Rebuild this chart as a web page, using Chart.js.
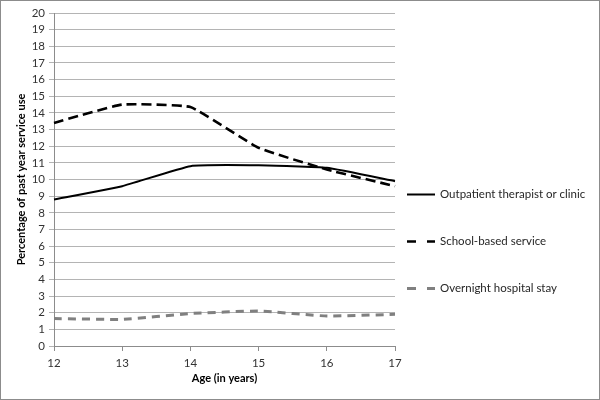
<!DOCTYPE html>
<html>
<head>
<meta charset="utf-8">
<script src="https://cdn.jsdelivr.net/npm/chart.js@4"></script>
<style>
html,body{margin:0;padding:0;background:#fff;}
#wrap{position:relative;width:600px;height:400px;}
#frame{position:absolute;left:0;top:0;width:598px;height:398px;border:1px solid #8c8c8c;pointer-events:none;}
</style>
</head>
<body>
<div id="wrap">
<canvas id="c" width="600" height="400"></canvas>
<div id="frame"></div>
</div>
<script>
const ages = ["12", "13", "14", "15", "16", "17"];
const outpatient = [8.8, 9.6, 10.8, 10.85, 10.7, 9.9];
const schoolBased = [13.4, 14.5, 14.35, 11.9, 10.6, 9.6];
const overnight = [1.65, 1.6, 1.95, 2.1, 1.8, 1.9];
const seriesNames = ["Outpatient therapist or clinic", "School-based service", "Overnight hospital stay"];
const yTitle = "Percentage of past year service use";
const xTitle = "Age (in years)";

const FONT = "Lato, 'Open Sans', sans-serif";

const legendPlugin = {
  id: 'sideLegend',
  afterDraw(chart) {
    const ctx = chart.ctx;
    const rows = [194.5, 241.5, 288.5];
    ctx.save();
    chart.data.datasets.forEach((ds, i) => {
      const y = rows[i];
      ctx.strokeStyle = ds.borderColor;
      ctx.lineWidth = ds.borderWidth;
      ctx.setLineDash([]);
      ctx.beginPath();
      if (ds.borderDash && ds.borderDash.length) {
        ctx.moveTo(407, y); ctx.lineTo(416, y);
        ctx.moveTo(427, y); ctx.lineTo(435, y);
      } else {
        ctx.moveTo(407, y); ctx.lineTo(435, y);
      }
      ctx.stroke();
      ctx.fillStyle = '#262626';
      ctx.font = "11.5px " + FONT;
      ctx.textBaseline = 'middle';
      ctx.textAlign = 'left';
      ctx.fillText(ds.label, 440, y);
    });
    ctx.restore();
  }
};

new Chart(document.getElementById('c'), {
  type: 'line',
  data: {
    labels: ages,
    datasets: [
      { label: seriesNames[0], data: outpatient, borderColor: '#000000', borderWidth: 2, borderDash: [], pointRadius: 0, tension: 0.12, fill: false },
      { label: seriesNames[1], data: schoolBased, borderColor: '#000000', borderWidth: 2.6, borderDash: [10, 5], pointRadius: 0, tension: 0.12, fill: false },
      { label: seriesNames[2], data: overnight, borderColor: '#808080', borderWidth: 3, borderDash: [8, 6], pointRadius: 0, tension: 0.12, fill: false }
    ]
  },
  options: {
    responsive: false,
    animation: false,
    layout: { padding: { top: 13, right: 205, bottom: 0, left: 0 } },
    plugins: { legend: { display: false }, tooltip: { enabled: false } },
    scales: {
      x: {
        offset: false,
        grid: { drawOnChartArea: false, drawTicks: true, tickLength: 5, color: '#8c8c8c' },
        border: { color: '#8c8c8c' },
        ticks: { color: '#333', font: { family: FONT, size: 11.5 }, padding: 5, maxRotation: 0, autoSkip: false },
        title: { display: true, text: xTitle, color: '#000', font: { family: FONT, size: 11, weight: 'bold' }, padding: { top: 2, bottom: 15 } },
        afterFit(s) { s.height = 54; }
      },
      y: {
        min: 0, max: 20,
        ticks: { stepSize: 1, autoSkip: false, color: '#333', font: { family: FONT, size: 11.5 }, padding: 4 },
        grid: { color: '#b4b4b4', tickLength: 5 },
        border: { color: '#8c8c8c' },
        title: { display: true, text: yTitle, color: '#000', font: { family: FONT, size: 11, weight: 'bold' }, padding: { top: 15, bottom: 4 } },
        afterFit(s) { s.width = 54; }
      }
    }
  },
  plugins: [legendPlugin]
});
</script>
</body>
</html>
